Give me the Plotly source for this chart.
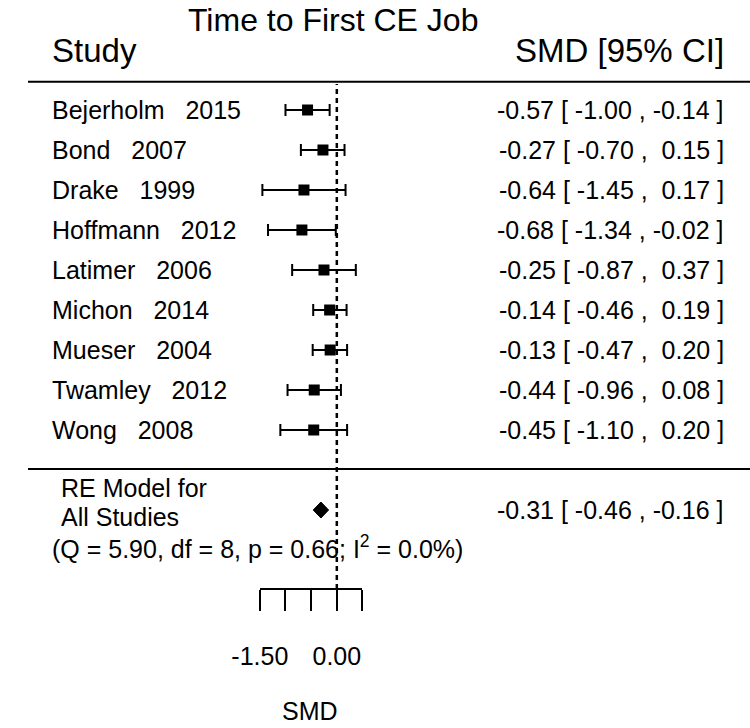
import plotly.graph_objects as go

# ---------------- data ----------------
studies = ["Bejerholm", "Bond", "Drake", "Hoffmann", "Latimer", "Michon", "Mueser", "Twamley", "Wong"]
years = [2015, 2007, 1999, 2012, 2006, 2014, 2004, 2012, 2008]
smd = [-0.57, -0.27, -0.64, -0.68, -0.25, -0.14, -0.13, -0.44, -0.45]
ci_lower = [-1.00, -0.70, -1.45, -1.34, -0.87, -0.46, -0.47, -0.96, -1.10]
ci_upper = [-0.14, 0.15, 0.17, -0.02, 0.37, 0.19, 0.20, 0.08, 0.20]
re_est, re_lower, re_upper = -0.31, -0.46, -0.16
q_stat, q_df, q_p, i2 = 5.90, 8, 0.66, 0.0
axis_range = [-1.5, 0.5]
axis_labeled_ticks = [-1.5, 0.0]
axis_ticktext = ["-1.50", "0.00"]
axis_unlabeled_ticks = [-1.0, -0.5, 0.5]
title_text = "Time to First CE Job"

# ---------------- geometry (pixel mapping of the canvas) ----------------
W, H = 750, 728
ZERO_PX = 320.8          # pixel x of SMD = 0
PPU = 53.33              # pixels per SMD unit
K = len(studies)
ROW1_PX = 110.0          # pixel y of first study row (y = K)
ROW_PX = 40.0            # pixels between rows


def px_x(p):
    return (p - ZERO_PX) / PPU


def px_y(p):
    return K - (p - ROW1_PX) / ROW_PX


rows = [K - i for i in range(K)]
summary_row = -1
FONT = "Liberation Sans, Arial, Helvetica, sans-serif"
NB = "\u00a0"

fig = go.Figure()

# study estimates with CIs
fig.add_trace(go.Scatter(
    x=smd, y=rows, mode="markers",
    marker=dict(symbol="square", size=11, color="black"),
    error_x=dict(type="data", symmetric=False,
                 array=[u - e for u, e in zip(ci_upper, smd)],
                 arrayminus=[e - l for e, l in zip(smd, ci_lower)],
                 color="black", thickness=2, width=6),
    hoverinfo="skip", showlegend=False,
))

# summary diamond
dh = 0.2
fig.add_trace(go.Scatter(
    x=[re_lower, re_est, re_upper, re_est, re_lower],
    y=[summary_row, summary_row + dh, summary_row, summary_row - dh, summary_row],
    mode="lines", fill="toself", fillcolor="black",
    line=dict(color="black", width=1),
    hoverinfo="skip", showlegend=False,
))

# invisible trace to create the SMD axis subplot
fig.add_trace(go.Scatter(
    x=axis_range, y=[px_y(589), px_y(589)],
    xaxis="x2", yaxis="y", mode="lines", line=dict(width=0),
    opacity=0, hoverinfo="skip", showlegend=False,
))

shapes = [
    dict(type="line", xref="paper", yref="y", x0=0, x1=1,
         y0=px_y(81.7), y1=px_y(81.7), line=dict(color="black", width=2)),
    dict(type="line", xref="paper", yref="y", x0=0, x1=1,
         y0=px_y(469), y1=px_y(469), line=dict(color="black", width=2)),
    dict(type="line", xref="x", yref="y", x0=0, x1=0,
         y0=px_y(589), y1=px_y(84),
         line=dict(color="black", width=2.5, dash="5px,4px")),
]

annotations = []


def fmt(v):
    return f"{v:5.2f}".replace(" ", NB)


def ann(xpx, ypx_or_row, text, anchor, size, is_row=False):
    return dict(x=xpx / W, xref="paper",
                y=ypx_or_row if is_row else px_y(ypx_or_row), yref="y",
                text=text, xanchor=anchor, yanchor="middle", showarrow=False,
                font=dict(size=size, color="black", family=FONT))


for r, s, yr, e, lo, hi in zip(rows, studies, years, smd, ci_lower, ci_upper):
    annotations.append(ann(23, r, f"{s}{NB*3}{yr}", "left", 25, True))
    annotations.append(ann(725, r, f"{fmt(e)} [ {fmt(lo)} , {fmt(hi)} ]".replace(" ", NB), "right", 25, True))

annotations.append(ann(725, summary_row,
                       f"{fmt(re_est)} [ {fmt(re_lower)} , {fmt(re_upper)} ]".replace(" ", NB),
                       "right", 25, True))
annotations.append(ann(32, 488, "RE Model for", "left", 25))
annotations.append(ann(32, 517, "All Studies", "left", 25))
annotations.append(ann(23, 547,
                       f"(Q = {q_stat:.2f}, df = {q_df}, p = {q_p:.2f}; I<sup>2</sup> = {i2:.1f}%)",
                       "left", 25))
annotations.append(ann(23, 50, "Study", "left", 33))
annotations.append(ann(725, 50, "SMD [95% CI]", "right", 33))
annotations.append(ann(317, 20, title_text, "center", 32))
annotations.append(ann(293, 711, "SMD", "center", 25))

fig.update_layout(
    width=W, height=H,
    margin=dict(l=0, r=0, t=0, b=0),
    paper_bgcolor="white", plot_bgcolor="rgba(0,0,0,0)",
    showlegend=False,
    xaxis=dict(range=[px_x(0), px_x(W)], domain=[0, 1], visible=False, fixedrange=True),
    yaxis=dict(range=[px_y(H), px_y(0)], domain=[0, 1], visible=False, fixedrange=True),
    xaxis2=dict(range=axis_range,
                domain=[(ZERO_PX + axis_range[0] * PPU) / W, (ZERO_PX + axis_range[1] * PPU) / W],
                anchor="free", position=(H - 589) / H, side="bottom",
                showline=True, linecolor="black", linewidth=2,
                ticks="outside", ticklen=21, tickwidth=2, tickcolor="black",
                tickmode="array", tickvals=axis_labeled_ticks, ticktext=axis_ticktext,
                ticklabelstandoff=24,
                minor=dict(tickmode="array", tickvals=axis_unlabeled_ticks, ticks="outside",
                           ticklen=21, tickwidth=2, tickcolor="black", showgrid=False),
                tickfont=dict(size=25, color="black", family=FONT),
                showgrid=False, zeroline=False, fixedrange=True),
    shapes=shapes, annotations=annotations,
)

fig.write_html("out.html", config={"displayModeBar": False},
               post_script="document.body.style.margin='0px';")
